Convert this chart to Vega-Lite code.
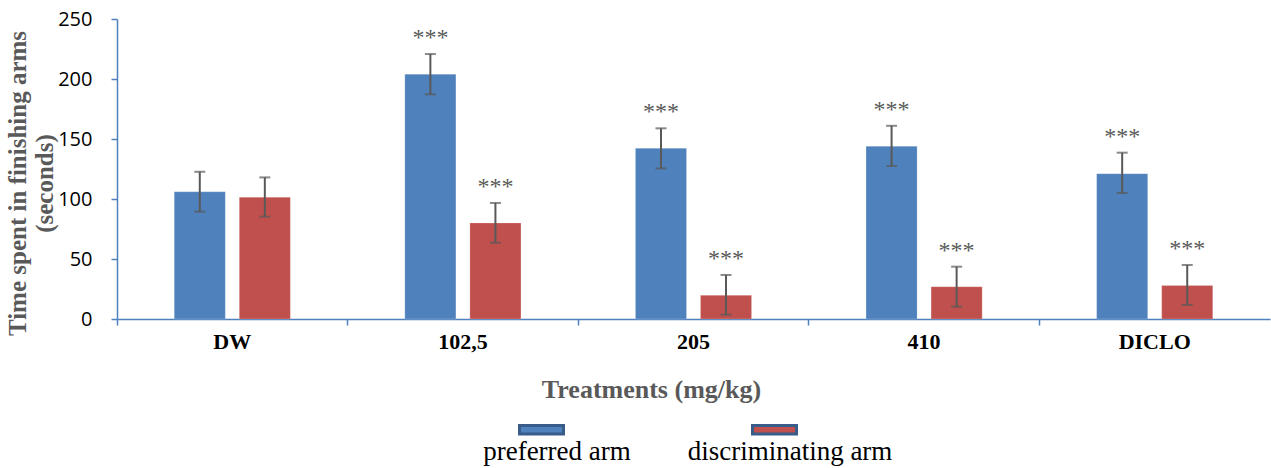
{
  "$schema": "https://vega.github.io/schema/vega-lite/v6.json",
  "autosize": "none",
  "width": 1153,
  "height": 300,
  "padding": {"left": 117, "top": 19, "right": 1, "bottom": 149},
  "background": "white",
  "config": {"view": {"stroke": null}},
  "data": {"values": [
    {"treatment": "DW", "arm": "preferred arm", "value": 106, "lo": 89.4, "hi": 122.7, "sig": ""},
    {"treatment": "DW", "arm": "discriminating arm", "value": 101.5, "lo": 85.3, "hi": 118, "sig": ""},
    {"treatment": "102,5", "arm": "preferred arm", "value": 204, "lo": 187.2, "hi": 220.8, "sig": "***"},
    {"treatment": "102,5", "arm": "discriminating arm", "value": 80, "lo": 63.6, "hi": 96.7, "sig": "***"},
    {"treatment": "205", "arm": "preferred arm", "value": 142.2, "lo": 125.5, "hi": 158.9, "sig": "***"},
    {"treatment": "205", "arm": "discriminating arm", "value": 19.7, "lo": 3.6, "hi": 36.7, "sig": "***"},
    {"treatment": "410", "arm": "preferred arm", "value": 143.9, "lo": 127.5, "hi": 161, "sig": "***"},
    {"treatment": "410", "arm": "discriminating arm", "value": 26.9, "lo": 10.3, "hi": 43.6, "sig": "***"},
    {"treatment": "DICLO", "arm": "preferred arm", "value": 121.1, "lo": 105, "hi": 138.6, "sig": "***"},
    {"treatment": "DICLO", "arm": "discriminating arm", "value": 28, "lo": 11.7, "hi": 45, "sig": "***"}
  ]},
  "encoding": {
    "x": {
      "field": "treatment", "type": "nominal", "sort": null,
      "scale": {"paddingInner": 0, "paddingOuter": 0},
      "axis": {
        "title": "Treatments (mg/kg)",
        "titleFont": "Liberation Serif", "titleFontSize": 26, "titleFontWeight": "bold", "titleColor": "#595959",
        "titleX": 534, "titleY": 78, "titleBaseline": "alphabetic",
        "labelFont": "Liberation Serif", "labelFontSize": 22, "labelFontWeight": "bold", "labelColor": "#000000",
        "labelAngle": 0, "labelPadding": 6, "labelBaseline": "top",
        "domainColor": "#4F81BD", "domainWidth": 1.5,
        "tickColor": "#4F81BD", "tickSize": 6, "tickWidth": 1.5, "bandPosition": 0
      }
    },
    "xOffset": {
      "field": "arm", "type": "nominal", "sort": ["preferred arm", "discriminating arm"],
      "scale": {"paddingInner": 0.215, "paddingOuter": 0.88}
    }
  },
  "layer": [
    {
      "mark": {"type": "bar", "stroke": "#ffffff", "strokeOpacity": 0.4, "strokeWidth": 0.5},
      "encoding": {
        "y": {
          "field": "value", "type": "quantitative",
          "scale": {"domain": [0, 250], "nice": false},
          "axis": {
            "values": [0, 50, 100, 150, 200, 250], "grid": false,
            "title": ["Time spent in finishing arms", "(seconds)"],
            "titleFont": "Liberation Serif", "titleFontSize": 25, "titleFontWeight": "bold", "titleColor": "#595959",
            "titleLineHeight": 27, "titlePadding": 0, "titleY": 164,
            "labelFont": "Open Sans", "labelFontSize": 20, "labelColor": "#000000", "labelPadding": 19,
            "domainColor": "#4F81BD", "domainWidth": 1.5,
            "tickColor": "#4F81BD", "tickSize": 6, "tickWidth": 1.5
          }
        },
        "color": {
          "field": "arm", "type": "nominal",
          "sort": ["preferred arm", "discriminating arm"],
          "scale": {"domain": ["preferred arm", "discriminating arm"], "range": ["#4F81BD", "#C0504D"]},
          "legend": {
            "title": null, "orient": "none", "legendX": 401, "legendY": 387,
            "direction": "horizontal", "columns": 2, "padding": 0,
            "symbolType": "M-1,-0.19H1V0.19H-1Z", "symbolSize": 1936,
            "symbolStrokeColor": "#385D8A", "symbolStrokeWidth": 3, "symbolOpacity": 1,
            "labelFont": "Liberation Serif", "labelFontSize": 27, "labelColor": "#000000",
            "labelAlign": "center", "labelOffset": -8, "labelLimit": 400,
            "columnPadding": 56,
            "encode": {"labels": {"update": {"dy": {"value": 22}}}}
          }
        }
      }
    },
    {
      "mark": {"type": "rule", "color": "#595959", "strokeWidth": 2},
      "encoding": {
        "y": {"field": "lo", "type": "quantitative", "scale": {"domain": [0, 250], "nice": false}},
        "y2": {"field": "hi"}
      }
    },
    {
      "mark": {"type": "tick", "color": "#595959", "thickness": 2, "size": 11},
      "encoding": {"y": {"field": "lo", "type": "quantitative", "scale": {"domain": [0, 250], "nice": false}}}
    },
    {
      "mark": {"type": "tick", "color": "#595959", "thickness": 2, "size": 11},
      "encoding": {"y": {"field": "hi", "type": "quantitative", "scale": {"domain": [0, 250], "nice": false}}}
    },
    {
      "mark": {"type": "text", "font": "Liberation Serif", "fontSize": 24, "color": "#595959", "baseline": "alphabetic", "dy": -9},
      "encoding": {
        "y": {"field": "hi", "type": "quantitative", "scale": {"domain": [0, 250], "nice": false}},
        "text": {"field": "sig"}
      }
    }
  ]
}
